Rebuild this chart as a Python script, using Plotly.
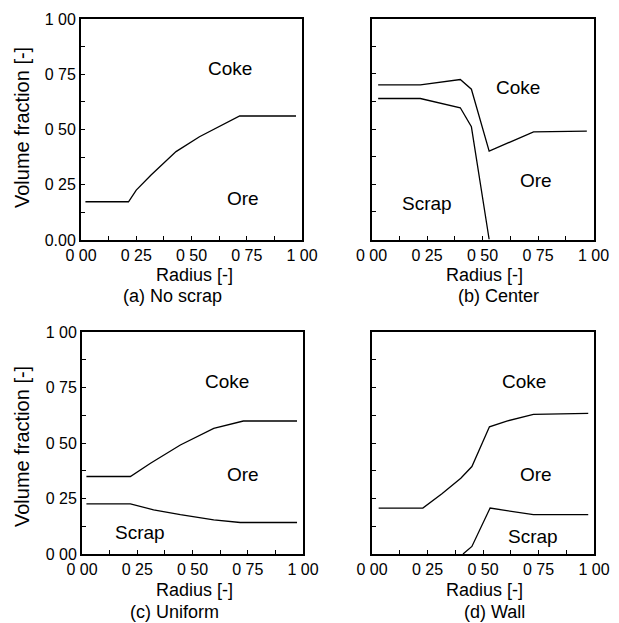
import plotly.graph_objects as go

# ---- data ----
a_coke_x = [0.02, 0.215, 0.25, 0.317, 0.43, 0.536, 0.718, 0.973]
a_coke_y = [0.173, 0.173, 0.226, 0.294, 0.40, 0.467, 0.561, 0.561]

b_coke_x = [0.03, 0.22, 0.40, 0.45, 0.53, 0.73, 0.97]
b_coke_y = [0.70, 0.70, 0.724, 0.68, 0.40, 0.487, 0.49]
b_scrap_x = [0.03, 0.22, 0.40, 0.45, 0.53]
b_scrap_y = [0.638, 0.638, 0.596, 0.51, 0.0]

c_coke_x = [0.02, 0.219, 0.31, 0.445, 0.596, 0.73, 0.973]
c_coke_y = [0.349, 0.349, 0.409, 0.491, 0.566, 0.599, 0.599]
c_scrap_x = [0.02, 0.219, 0.324, 0.445, 0.596, 0.716, 0.973]
c_scrap_y = [0.226, 0.226, 0.199, 0.177, 0.154, 0.142, 0.142]

d_coke_x = [0.03, 0.229, 0.315, 0.40, 0.45, 0.529, 0.607, 0.727, 0.974]
d_coke_y = [0.207, 0.207, 0.271, 0.341, 0.394, 0.573, 0.599, 0.629, 0.633]
d_scrap_x = [0.41, 0.45, 0.532, 0.727, 0.974]
d_scrap_y = [0.0, 0.034, 0.207, 0.177, 0.177]

tick_vals = [0, 0.125, 0.25, 0.375, 0.5, 0.625, 0.75, 0.875, 1.0]
x_tick_text = ["0 00", "", "0 25", "", "0 50", "", "0 75", "", "1 00"]
ya_tick_text = ["0.00", "", "0 25", "", "0 50", "", "0 75", "", "1 00"]
yc_tick_text = ["0 00", "", "0 25", "", "0 50", "", "0 75", "", "1 00"]

subtitles = ["(a) No scrap", "(b) Center", "(c) Uniform", "(d) Wall"]
region_labels = {
    1: [("Coke", 0.674, 0.778), ("Ore", 0.733, 0.186)],
    2: [("Coke", 0.662, 0.688), ("Ore", 0.739, 0.267), ("Scrap", 0.252, 0.163)],
    3: [("Coke", 0.657, 0.775), ("Ore", 0.73, 0.356), ("Scrap", 0.264, 0.099)],
    4: [("Coke", 0.686, 0.775), ("Ore", 0.74, 0.36), ("Scrap", 0.727, 0.081)],
}

W, H = 619, 623
FONT = "Liberation Sans, Arial, sans-serif"

fig = go.Figure()
line = dict(color="black", width=1.3)

series = [
    (1, a_coke_x, a_coke_y),
    (2, b_coke_x, b_coke_y), (2, b_scrap_x, b_scrap_y),
    (3, c_coke_x, c_coke_y), (3, c_scrap_x, c_scrap_y),
    (4, d_coke_x, d_coke_y), (4, d_scrap_x, d_scrap_y),
]
for i, xs, ys in series:
    suf = "" if i == 1 else str(i)
    fig.add_trace(go.Scatter(x=xs, y=ys, mode="lines", line=line,
                             xaxis="x" + suf, yaxis="y" + suf,
                             showlegend=False, hoverinfo="skip"))

# panel frames in pixels: (left, right, top, bottom)
frames = {1: (81, 302, 19, 240), 2: (371.5, 593.5, 18.5, 239.5),
          3: (82, 303, 332, 554), 4: (372, 594, 332, 554)}

layout = dict(width=W, height=H,
              margin=dict(l=0, r=0, t=0, b=0, pad=0, autoexpand=False),
              paper_bgcolor="white", plot_bgcolor="white",
              font=dict(family=FONT, color="black", size=16))

for i, (l, r, t, b) in frames.items():
    suf = "" if i == 1 else str(i)
    ax = dict(range=[0, 1], domain=[l / W, r / W], anchor="y" + suf,
              automargin=False,
              showgrid=False, zeroline=False, showline=True, mirror=True,
              linecolor="black", linewidth=2, ticks="inside", ticklen=4,
              tickcolor="black", tickwidth=1, tickvals=tick_vals,
              ticktext=x_tick_text, tickfont=dict(size=16), fixedrange=True)
    ay = dict(range=[0, 1], domain=[1 - b / H, 1 - t / H], anchor="x" + suf,
              automargin=False,
              showgrid=False, zeroline=False, showline=True, mirror=True,
              linecolor="black", linewidth=2, ticks="inside", ticklen=4,
              tickcolor="black", tickwidth=1, tickvals=tick_vals,
              ticktext=ya_tick_text if i == 1 else yc_tick_text,
              showticklabels=i in (1, 3), tickfont=dict(size=16),
              fixedrange=True)
    layout["xaxis" + suf] = ax
    layout["yaxis" + suf] = ay

annotations = []
# region labels
for i, labs in region_labels.items():
    suf = "" if i == 1 else str(i)
    for txt, xv, yv in labs:
        annotations.append(dict(text=txt, x=xv, y=yv, xref="x" + suf,
                                yref="y" + suf, showarrow=False,
                                xanchor="center", yanchor="middle",
                                font=dict(size=19)))

# axis titles and subtitles (pixel centers)
radius_pos = [(194, 275), (484, 275), (194, 590), (484, 590)]
sub_pos = [(172, 296), (498, 296), (174, 612), (494, 612)]
for (x, y) in radius_pos:
    annotations.append(dict(text="Radius [-]", x=x / W, y=1 - y / H,
                            xref="paper", yref="paper", showarrow=False,
                            xanchor="center", yanchor="middle", borderpad=0,
                            font=dict(size=18)))
for txt, (x, y) in zip(subtitles, sub_pos):
    annotations.append(dict(text=txt, x=x / W, y=1 - y / H,
                            xref="paper", yref="paper", showarrow=False,
                            xanchor="center", yanchor="middle", borderpad=0,
                            font=dict(size=18)))
for y in (128, 447):
    annotations.append(dict(text="Volume fraction [-]", x=22 / W, y=1 - y / H,
                            xref="paper", yref="paper", showarrow=False,
                            xanchor="center", yanchor="middle",
                            textangle=-90, font=dict(size=20)))

layout["annotations"] = annotations
fig.update_layout(**layout)
fig.write_html("out.html",
               config={"displayModeBar": False, "staticPlot": True},
               post_script="document.body.style.margin='0px';"
                           "document.body.style.overflow='hidden';")
